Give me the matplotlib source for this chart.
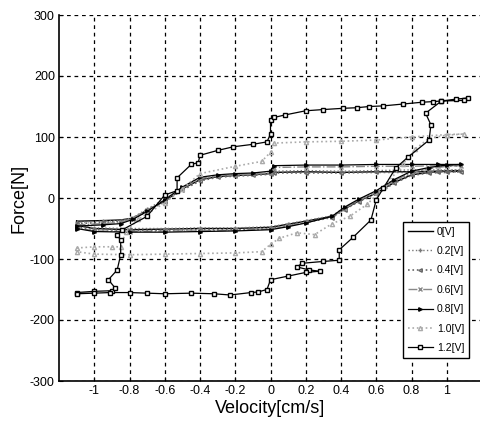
import matplotlib
matplotlib.use("Agg")
import matplotlib.pyplot as plt

plt.rcParams['font.family'] = ['Liberation Sans', 'DejaVu Sans']
plt.rcParams['axes.unicode_minus'] = False

# ---------------- data ----------------
v_0 = [-1.1, -0.95, -0.85, -0.78, -0.7, -0.6, -0.5, -0.4, -0.3, -0.2, -0.1, 0.0, 0.02, 0.2, 0.4, 0.6, 0.8, 0.95,
       1.08, 1.0, 0.9, 0.8, 0.7, 0.6, 0.5, 0.42, 0.35, 0.2, 0.1, 0.0, -0.2, -0.4, -0.6, -0.8, -1.0, -1.1, -1.1]
F_0 = [-38, -37, -36, -33, -20, -5, 15, 30, 35, 37, 38, 40, 42, 43, 42, 43, 43, 44,
       44, 44, 42, 38, 25, 8, -5, -18, -30, -38, -43, -48, -50, -50, -51, -52, -50, -45, -38]

v_02 = [-1.1, -0.95, -0.85, -0.78, -0.7, -0.6, -0.5, -0.4, -0.3, -0.2, -0.1, 0.0, 0.02, 0.2, 0.4, 0.6, 0.8, 0.95,
        1.08, 1.0, 0.9, 0.8, 0.7, 0.6, 0.5, 0.42, 0.35, 0.2, 0.1, 0.0, -0.2, -0.4, -0.6, -0.8, -1.0, -1.1]
F_02 = [-40, -38, -37, -32, -18, -2, 17, 31, 36, 38, 39, 41, 44, 45, 44, 45, 46, 46,
        46, 45, 43, 40, 28, 10, -3, -16, -29, -37, -42, -47, -49, -49, -50, -50, -49, -44]

v_04 = [-1.1, -0.95, -0.85, -0.78, -0.7, -0.6, -0.5, -0.4, -0.3, -0.2, -0.1, 0.0, 0.02, 0.2, 0.4, 0.6, 0.8, 0.95,
        1.08, 1.0, 0.9, 0.8, 0.7, 0.6, 0.5, 0.42, 0.35, 0.2, 0.1, 0.0, -0.2, -0.4, -0.6, -0.8, -1.0, -1.1]
F_04 = [-42, -40, -38, -34, -22, -6, 13, 28, 34, 36, 37, 39, 41, 41, 41, 42, 42, 43,
        43, 42, 41, 37, 24, 6, -6, -19, -32, -40, -45, -50, -52, -52, -53, -53, -52, -47]

v_06 = [-1.1, -0.95, -0.85, -0.78, -0.7, -0.6, -0.5, -0.4, -0.3, -0.2, -0.1, 0.0, 0.02, 0.2, 0.4, 0.6, 0.8, 0.95,
        1.08, 1.0, 0.9, 0.8, 0.7, 0.6, 0.5, 0.42, 0.35, 0.2, 0.1, 0.0, -0.2, -0.4, -0.6, -0.8, -1.0, -1.1]
F_06 = [-44, -42, -40, -33, -20, -4, 16, 32, 36, 38, 39, 41, 50, 51, 51, 52, 52, 53,
        53, 52, 48, 42, 28, 9, -4, -17, -31, -40, -46, -51, -53, -54, -54, -55, -54, -49]

v_08 = [-1.1, -0.95, -0.85, -0.78, -0.7, -0.6, -0.5, -0.4, -0.3, -0.2, -0.1, 0.0, 0.02, 0.2, 0.4, 0.6, 0.8, 0.95,
        1.08, 1.0, 0.9, 0.8, 0.7, 0.6, 0.5, 0.42, 0.35, 0.2, 0.1, 0.0, -0.2, -0.4, -0.6, -0.8, -1.0, -1.1]
F_08 = [-46, -44, -42, -35, -22, -3, 18, 34, 38, 40, 41, 44, 53, 54, 54, 55, 55, 55,
        55, 54, 50, 44, 30, 12, -2, -15, -30, -41, -47, -52, -54, -55, -56, -56, -55, -50]

v_10 = [-1.1, -1.0, -0.9, -0.85, -0.82, -0.75, -0.6, -0.5, -0.4, -0.2, -0.05, 0.0, 0.02, 0.2, 0.4, 0.6, 0.8, 1.0,
        1.1, 1.0, 0.9, 0.82, 0.75, 0.65, 0.55, 0.45, 0.35, 0.25, 0.15, 0.05, 0.0, -0.05, -0.2, -0.4, -0.6, -0.8,
        -1.0, -1.1]
F_10 = [-82, -80, -80, -80, -55, -35, -8, 15, 40, 52, 60, 75, 90, 92, 93, 95, 100, 104,
        105, 103, 98, 80, 55, 20, -10, -30, -42, -60, -57, -66, -76, -88, -90, -91, -92, -93,
        -92, -88]

v_12 = [-1.1, -1.0, -0.9, -0.88, -0.92, -0.87, -0.85, -0.85, -0.87, -0.84, -0.7, -0.6, -0.53, -0.53, -0.45,
        -0.41, -0.4, -0.3, -0.21, -0.1, -0.02, 0.0, 0.0, 0.02, 0.08, 0.2, 0.3, 0.41, 0.49, 0.56, 0.64, 0.75,
        0.86, 0.92, 0.97, 1.05, 1.12, 1.1, 0.97, 0.88, 0.91, 0.9, 0.78, 0.71, 0.64, 0.6, 0.57, 0.47, 0.39, 0.39,
        0.3, 0.18, 0.15, 0.22, 0.28, 0.2, 0.1, 0.0, -0.02, -0.07, -0.11, -0.23, -0.32, -0.45, -0.6, -0.7, -0.8,
        -0.91, -1.0, -1.1]
F_12 = [-155, -153, -152, -148, -134, -118, -93, -69, -61, -52, -30, 5, 12, 33, 55,
        58, 70, 78, 84, 88, 92, 105, 128, 132, 136, 143, 145, 147, 148, 150, 151, 154,
        157, 158, 159, 162, 164, 160, 159, 139, 120, 95, 67, 49, 16, -3, -36, -64, -85, -102,
        -104, -107, -113, -118, -120, -122, -128, -134, -150, -154, -155, -159, -157, -156, -157, -156, -155,
        -155, -156, -157]

labels = ['0[V]', '0.2[V]', '0.4[V]', '0.6[V]', '0.8[V]', '1.0[V]', '1.2[V]']
xticks = [-1, -0.8, -0.6, -0.4, -0.2, 0, 0.2, 0.4, 0.6, 0.8, 1]
xtick_labels = ['-1', '-0.8', '-0.6', '-0.4', '-0.2', '0', '0.2', '0.4', '0.6', '0.8', '1']
yticks = [-300, -200, -100, 0, 100, 200, 300]

# ---------------------------- figure ----------------------------
fig = plt.figure(figsize=(4.8, 4.33), dpi=100)
ax = fig.add_axes([59 / 480, 52 / 433, 423 / 480, 366 / 433])

ax.plot(v_0, F_0, color='black', linestyle='-', linewidth=1.0, label=labels[0])
ax.plot(v_02, F_02, color='#777777', linestyle=':', linewidth=1.0, marker='+', markersize=3, label=labels[1])
ax.plot(v_04, F_04, color='#666666', linestyle=':', linewidth=1.2, marker='<', markersize=2.5,
        markerfacecolor='none', label=labels[2])
ax.plot(v_06, F_06, color='#888888', linestyle='-.', linewidth=1.0, marker='x', markersize=2.5, label=labels[3])
ax.plot(v_08, F_08, color='black', linestyle='-', linewidth=0.9, marker='>', markersize=2.5, label=labels[4])
ax.plot(v_10, F_10, color='#aaaaaa', linestyle=':', linewidth=1.2, marker='^', markersize=3,
        markerfacecolor='none', label=labels[5])
ax.plot(v_12, F_12, color='black', linestyle='-', linewidth=0.9, marker='s', markersize=2.8,
        markerfacecolor='white', label=labels[6])

ax.set_xlim(-1.2, 1.2)
ax.set_ylim(-300, 300)
ax.set_xticks(xticks)
ax.set_xticklabels(xtick_labels)
ax.set_yticks(yticks)
ax.tick_params(direction='in', length=3, labelsize=9, pad=3)
ax.grid(True, color='black', linestyle=(0, (3, 3)), linewidth=0.9)
ax.spines['top'].set_visible(False)
ax.spines['right'].set_visible(False)
ax.spines['left'].set_linewidth(1.2)
ax.spines['bottom'].set_linewidth(1.2)

ax.set_xlabel('Velocity[cm/s]', fontsize=13, labelpad=2)
ax.set_ylabel('Force[N]', fontsize=13, labelpad=2)

leg = ax.legend(loc='upper left', bbox_to_anchor=(403 / 480, 1 - 222 / 433), bbox_transform=fig.transFigure,
                fontsize=7.5, handlelength=2.4, handletextpad=0.4, labelspacing=0.9, borderaxespad=0,
                borderpad=0.45, fancybox=False, framealpha=1, edgecolor='black')
leg.get_frame().set_linewidth(1.0)

fig.savefig('out.png', dpi=100)
